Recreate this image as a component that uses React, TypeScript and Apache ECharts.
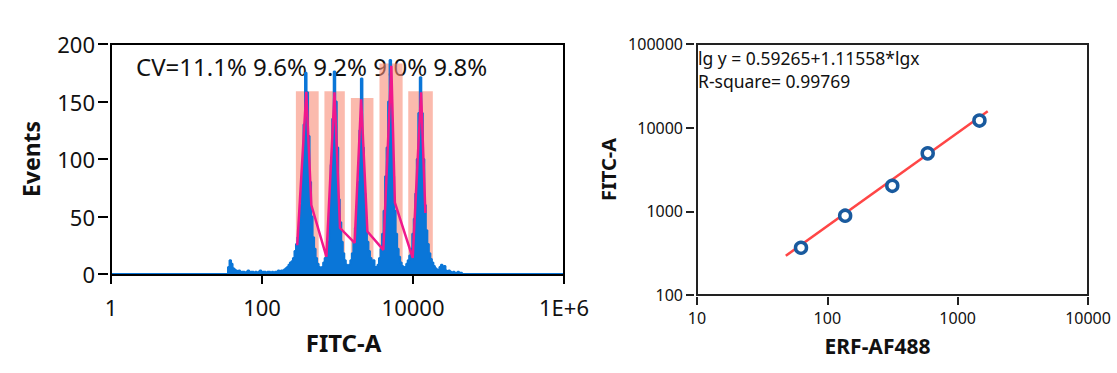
import React, { useEffect, useRef } from 'react';
import * as echarts from 'echarts';

// ---------- Left panel: FITC-A histogram ----------
const histStartLog = 1.54; // log10 of first bin centre
const histStepLog = 0.02; // bin width in decades
const histCounts = [
  0, 6, 12, 9, 5, 4, 3, 2, 3, 1, 2, 2, 1, 2, 3, 1, 2, 2, 1, 2, 1, 2, 3, 1, 2, 2, 1, 2, 2, 1, 2, 1, 2, 2, 3, 2,
  3, 3, 4, 5, 6, 8, 10, 11, 14, 20, 26, 32, 45, 60, 95, 130, 175, 158, 120, 80, 50, 32, 22, 14, 9, 6, 4,
  6, 10, 14, 20, 28, 60, 95, 135, 176, 150, 110, 65, 45, 28, 18, 12, 8, 6,
  8, 12, 18, 28, 40, 52, 80, 125, 170, 110, 70, 45, 28, 20, 14, 10, 12, 6, 4,
  8, 14, 22, 35, 55, 85, 110, 150, 186, 130, 85, 55, 35, 22, 15, 10, 7, 5,
  6, 9, 12, 16, 22, 35, 48, 70, 100, 140, 171, 140, 100, 60, 38, 26, 18, 13, 10, 7, 5, 4, 3,
  6, 8, 5, 7, 3, 2, 3, 2, 1, 2, 1, 1, 2, 1, 1, 0,
];
const gateStart = [281, 671, 1504, 3597, 8650];
const gateEnd = [563, 1250, 2993, 7290, 18300];
const gateTop = [159, 159, 153, 183, 159];
const peakLineX = [293, 386, 450, 713, 912, 1080, 1686, 2057, 2489, 4044, 5164, 5754, 9910, 12790, 14590];
const peakLineY = [25, 158.5, 60, 15, 158, 40, 27, 152, 37, 21, 181, 62, 14, 158, 53];
const cvLabels = ['CV=11.1%', '9.6%', '9.2%', '9.0%', '9.8%'];
const leftXTicks = [1, 100, 10000, 1000000];
const leftXTickLabels = ['1', '100', '10000', '1E+6'];
const leftXRange = [1, 1000000];
const leftYRange = [0, 200];
const leftYStep = 50;

// ---------- Right panel: calibration ----------
const erfValues = [62.8, 137, 315, 589, 1469];
const fitcValues = [367, 887, 2018, 4930, 12160];
const fitLineX = [48, 1700];
const fitLineY = [294, 15720];
const equationLines = ['lg y = 0.59265+1.11558*lgx', 'R-square= 0.99769'];
const rightXTicks = [10, 100, 1000, 10000];
const rightXTickLabels = ['10', '100', '1000', '10000'];
const rightYTicks = [100, 1000, 10000, 100000];
const rightYTickLabels = ['100', '1000', '10000', '100000'];

const FONT = '"Noto Sans", "Open Sans", sans-serif';
const BLUE = '#0a76d8';

function labelFor(ticks: number[], labels: string[]) {
  return (v: number) => {
    let best = 0;
    let bd = Infinity;
    ticks.forEach((t, i) => {
      const d = Math.abs(Math.log10(t) - Math.log10(v));
      if (d < bd) {
        bd = d;
        best = i;
      }
    });
    return labels[best];
  };
}

export default function App() {
  const ref = useRef<HTMLDivElement>(null);
  useEffect(() => {
    if (!ref.current) return;
    const chart = echarts.init(ref.current, undefined, { renderer: 'svg' });

    const histData: number[][] = [[leftXRange[0], 0]];
    histCounts.forEach((c, i) => {
      histData.push([Math.pow(10, histStartLog + i * histStepLog), c]);
    });
    histData.push([leftXRange[1], 0]);

    const gates = gateStart.map((s, i) => [s, gateEnd[i], gateTop[i]]);
    const peakLine = peakLineX.map((x, i) => [x, peakLineY[i]]);
    const scatter = erfValues.map((x, i) => [x, fitcValues[i]]);
    const fitLine = fitLineX.map((x, i) => [x, fitLineY[i]]);

    const tickLabelStyle = { color: '#111', fontFamily: FONT };

    chart.setOption({
      animation: false,
      backgroundColor: '#fff',
      grid: [
        { left: 111, top: 44, width: 453, height: 230 },
        { left: 697, top: 44, width: 391, height: 251 },
      ],
      xAxis: [
        {
          gridIndex: 0,
          type: 'log',
          logBase: 10,
          min: leftXRange[0],
          max: leftXRange[1],
          interval: 2,
          offset: 3,
          axisLine: { show: false },
          axisTick: { show: true, length: 10, lineStyle: { color: '#000', width: 2 } },
          minorTick: { show: false },
          splitLine: { show: false },
          axisLabel: { ...tickLabelStyle, fontSize: 22, margin: 19, formatter: labelFor(leftXTicks, leftXTickLabels) },
          name: 'FITC-A',
          nameLocation: 'middle',
          nameGap: 53,
          nameTextStyle: { fontFamily: FONT, fontWeight: 'bold', fontSize: 24, color: '#111', padding: [0, 0, 0, 12] },
        },
        {
          gridIndex: 1,
          type: 'log',
          logBase: 10,
          min: rightXTicks[0],
          max: rightXTicks[rightXTicks.length - 1],
          interval: 1,
          offset: 2,
          axisLine: { show: false },
          axisTick: { show: true, length: 8, lineStyle: { color: '#222', width: 2 } },
          splitLine: { show: false },
          axisLabel: { ...tickLabelStyle, fontSize: 16, margin: 13, formatter: labelFor(rightXTicks, rightXTickLabels) },
          name: 'ERF-AF488',
          nameLocation: 'middle',
          nameGap: 38,
          nameTextStyle: { fontFamily: FONT, fontWeight: 'bold', fontSize: 21, color: '#111', padding: [0, 30, 0, 0] },
        },
      ],
      yAxis: [
        {
          gridIndex: 0,
          type: 'value',
          min: leftYRange[0],
          max: leftYRange[1],
          interval: leftYStep,
          offset: 3,
          axisLine: { show: false },
          axisTick: { show: true, length: 10, lineStyle: { color: '#000', width: 2 } },
          splitLine: { show: false },
          axisLabel: { ...tickLabelStyle, fontSize: 22, margin: 13 },
          name: 'Events',
          nameLocation: 'middle',
          nameGap: 66,
          nameTextStyle: { fontFamily: FONT, fontWeight: 'bold', fontSize: 23, color: '#111' },
        },
        {
          gridIndex: 1,
          type: 'log',
          logBase: 10,
          min: rightYTicks[0],
          max: rightYTicks[rightYTicks.length - 1],
          interval: 1,
          offset: 3,
          axisLine: { show: false },
          axisTick: { show: true, length: 8, lineStyle: { color: '#222', width: 2 } },
          splitLine: { show: false },
          axisLabel: { ...tickLabelStyle, fontSize: 16, margin: 11, formatter: labelFor(rightYTicks, rightYTickLabels) },
          name: 'FITC-A',
          nameLocation: 'middle',
          nameGap: 76,
          nameTextStyle: { fontFamily: FONT, fontWeight: 'bold', fontSize: 20, color: '#111' },
        },
      ],
      graphic: [
        {
          type: 'text',
          left: 136,
          top: 54,
          z: 0,
          style: { text: cvLabels.join(' '), font: `24px ${FONT}`, fill: '#111' },
        },
        {
          type: 'text',
          left: 698,
          top: 46,
          style: { text: equationLines.join('\n'), font: `17.5px ${FONT}`, lineHeight: 23, fill: '#111' },
        },
        {
          type: 'rect',
          shape: { x: 111, y: 44, width: 453, height: 231 },
          style: { fill: 'none', stroke: '#000', lineWidth: 2 },
          z: 100,
          silent: true,
        },
        {
          type: 'rect',
          shape: { x: 697, y: 44, width: 391, height: 251 },
          style: { fill: 'none', stroke: '#222', lineWidth: 2 },
          z: 100,
          silent: true,
        },
      ],
      series: [
        {
          type: 'custom',
          xAxisIndex: 0,
          yAxisIndex: 0,
          z: 1,
          data: gates,
          encode: { x: [0, 1], y: 2 },
          renderItem: (params: any, api: any) => {
            const p0 = api.coord([api.value(0), api.value(2)]);
            const p1 = api.coord([api.value(1), 0]);
            return {
              type: 'rect',
              shape: { x: p0[0], y: p0[1], width: p1[0] - p0[0], height: p1[1] - p0[1] },
              style: { fill: 'rgba(248, 140, 118, 0.6)' },
            };
          },
        },
        {
          type: 'line',
          xAxisIndex: 0,
          yAxisIndex: 0,
          z: 2,
          data: histData,
          step: 'middle',
          symbol: 'none',
          lineStyle: { color: BLUE, width: 2 },
          areaStyle: { color: BLUE, opacity: 1 },
        },
        {
          type: 'line',
          xAxisIndex: 0,
          yAxisIndex: 0,
          z: 3,
          data: peakLine,
          symbol: 'none',
          lineStyle: { color: '#f0188c', width: 2.5 },
        },
        {
          type: 'line',
          xAxisIndex: 1,
          yAxisIndex: 1,
          z: 2,
          data: fitLine,
          symbol: 'none',
          lineStyle: { color: '#ff4646', width: 2.5 },
        },
        {
          type: 'scatter',
          xAxisIndex: 1,
          yAxisIndex: 1,
          z: 3,
          data: scatter,
          symbol: 'circle',
          symbolSize: 11,
          itemStyle: { color: '#fff', borderColor: '#195a9e', borderWidth: 3.5, opacity: 1 },
        },
      ],
    });
    return () => chart.dispose();
  }, []);
  return <div ref={ref} style={{ position: 'fixed', left: 0, top: 0, width: 1117, height: 373 }} />;
}
